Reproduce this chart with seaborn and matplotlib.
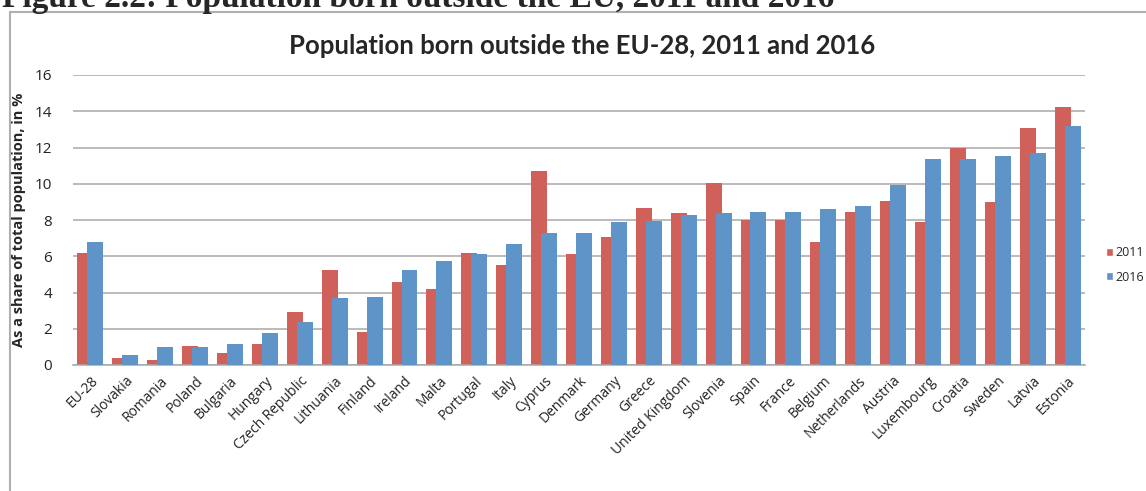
import pandas as pd
import numpy as np
import matplotlib
matplotlib.use('Agg')
import matplotlib.pyplot as plt
from matplotlib.patches import Rectangle, Patch
import seaborn as sns

# data
countries = ['EU-28', 'Slovakia', 'Romania', 'Poland', 'Bulgaria', 'Hungary',
             'Czech Republic', 'Lithuania', 'Finland', 'Ireland', 'Malta',
             'Portugal', 'Italy', 'Cyprus', 'Denmark', 'Germany', 'Greece',
             'United Kingdom', 'Slovenia', 'Spain', 'France', 'Belgium',
             'Netherlands', 'Austria', 'Luxembourg', 'Croatia', 'Sweden',
             'Latvia', 'Estonia']
share_2011 = [6.2, 0.37, 0.28, 1.07, 0.68, 1.14, 2.94, 5.26, 1.82, 4.56, 4.17,
              6.2, 5.5, 10.69, 6.1, 7.04, 8.68, 8.37, 10.06, 7.98, 7.98, 6.8,
              8.44, 9.07, 7.89, 11.95, 8.97, 13.09, 14.25]
share_2016 = [6.8, 0.53, 1.0, 0.97, 1.14, 1.75, 2.37, 3.71, 3.77, 5.26, 5.74,
              6.1, 6.66, 7.28, 7.28, 7.87, 7.96, 8.28, 8.37, 8.44, 8.44, 8.6,
              8.75, 9.93, 11.38, 11.38, 11.55, 11.7, 13.17]
years = ['2011', '2016']

RED = '#cf605a'
BLUE = '#5f94c9'

n = len(countries)
df = pd.DataFrame({
    'country': countries * 2,
    'year': [years[0]] * n + [years[1]] * n,
    'share': share_2011 + share_2016,
})

sns.set_theme(style='white')
plt.rcParams['font.family'] = ['Open Sans', 'DejaVu Sans']

fig = plt.figure(figsize=(11.46, 4.91), dpi=100)
ax = fig.add_axes([73 / 1146, 1 - 365 / 491, (1085 - 73) / 1146, 290 / 491])

sns.barplot(data=df, x='country', y='share', hue='year', order=countries,
            palette=[RED, BLUE], saturation=1, width=0.74, legend=False, ax=ax)

# excel style overlapping bars
w = 0.458
for k, p in enumerate(ax.patches):
    cx = p.get_x() + p.get_width() / 2
    i = round(cx)
    off = -0.143 if k < n else 0.143
    p.set_x(i + off - w / 2)
    p.set_width(w)
    p.set_edgecolor('none')
    p.set_zorder(2 if k < n else 3)

ax.set_xlim(-0.5, n - 0.5)
ax.set_ylim(0, 16)
ax.set_yticks(np.arange(0, 17, 2))
ax.yaxis.grid(True, color='#a8a8a8', linewidth=1.1)
ax.set_axisbelow(True)
for s in ['top', 'right', 'left']:
    ax.spines[s].set_visible(False)
ax.spines['bottom'].set_color('#a8a8a8')
ax.spines['bottom'].set_linewidth(1.1)
ax.tick_params(axis='y', length=0, pad=15, labelsize=11, labelcolor='#222222')
ax.tick_params(axis='x', length=0, pad=6, labelsize=10, labelcolor='#222222')
plt.setp(ax.get_xticklabels(), rotation=45, ha='right', rotation_mode='anchor')
ax.set_xlabel('')
ax.set_ylabel('As a share of total population, in %', fontsize=10.5,
              fontweight='bold', labelpad=6)

fig.text(582 / 1146, 1 - 46 / 491, 'Population born outside the EU-28, 2011 and 2016',
         ha='center', va='center', fontsize=18.5, fontweight='bold',
         family=['Lato', 'DejaVu Sans'])

handles = [Patch(facecolor=RED, label='2011'), Patch(facecolor=BLUE, label='2016')]
fig.legend(handles=handles, loc='center left',
           bbox_to_anchor=(1095 / 1146, 1 - 265 / 491), frameon=False,
           fontsize=9, handlelength=0.55, handleheight=0.55, handletextpad=0.15,
           labelspacing=0.9)

# outer chart frame
fig.patches.append(Rectangle((10 / 1146, -0.05), 1.2, 1 - 12 / 491 + 0.05,
                             transform=fig.transFigure, fill=False,
                             edgecolor='#b0b0b0', linewidth=1.5))

# cut-off document caption at the very top
fig.text(2 / 1146, 1 - 7 / 491, 'Figure 2.2: Population born outside the EU, 2011 and 2016',
         ha='left', va='baseline', fontsize=24, fontweight='bold',
         family=['Liberation Serif', 'DejaVu Serif'])

fig.savefig('out.png', dpi=100)
